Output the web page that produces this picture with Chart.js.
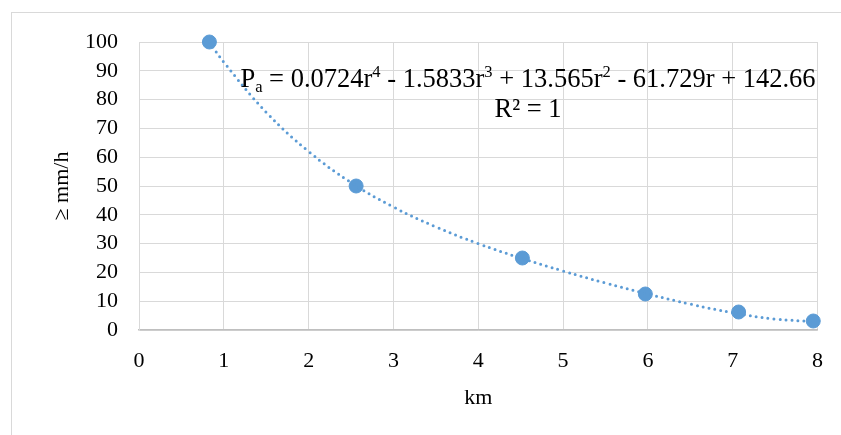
<!DOCTYPE html>
<html>
<head>
<meta charset="utf-8">
<script src="https://cdn.jsdelivr.net/npm/chart.js@4.4.1/dist/chart.umd.min.js"></script>
<style>
  body { margin: 0; background: #fff; }
  #myChart { display: block; }
</style>
</head>
<body>
<canvas id="myChart" width="841" height="435"></canvas>
<script>
// measured points (km vs intensity)
var distKm = [0.83, 2.56, 4.52, 5.97, 7.07, 7.95];
var intensity = [100, 50, 25, 12.5, 6.25, 3.125];

// dotted trendline
var trendKm = [0.83, 1, 1.5, 2, 2.5, 3, 3.5, 4, 4.5, 5, 5.5, 6, 6.5, 7, 7.5, 7.95];
var trendVal = [100, 93, 75.6, 62, 51.2, 42.7, 35.8, 30, 25, 20.5, 16.3, 12.5, 9, 6, 3.8, 3];

// equation shown on the chart
var coeffs = ['0.0724', '1.5833', '13.565', '61.729', '142.66'];
var rSquared = '1';

var xTicks = [0, 1, 2, 3, 4, 5, 6, 7, 8];
var yTicks = [0, 10, 20, 30, 40, 50, 60, 70, 80, 90, 100];

var blue = '#5b9bd5';
var serif = "'Liberation Serif', 'Times New Roman', serif";

var scatterPts = distKm.map(function(k, i) { return {x: k, y: intensity[i]}; });
var trendPts = trendKm.map(function(k, i) { return {x: k, y: trendVal[i]}; });

// outer frame + trendline equation
var extras = {
  id: 'extras',
  beforeDraw: function(chart) {
    var ctx = chart.ctx;
    ctx.save();
    ctx.strokeStyle = '#d9d9d9';
    ctx.lineWidth = 1;
    ctx.strokeRect(11.5, 12.5, 860, 440);
    ctx.restore();
  },
  afterDraw: function(chart) {
    var ctx = chart.ctx;
    var big = '26.5px ' + serif, small = '16.5px ' + serif;
    var parts = [
      ['P', big, 0], ['a', small, 5],
      [' = ' + coeffs[0] + 'r', big, 0], ['4', small, -10],
      [' - ' + coeffs[1] + 'r', big, 0], ['3', small, -10],
      [' + ' + coeffs[2] + 'r', big, 0], ['2', small, -10],
      [' - ' + coeffs[3] + 'r + ' + coeffs[4], big, 0]
    ];
    ctx.save();
    ctx.fillStyle = '#000';
    ctx.textBaseline = 'alphabetic';
    var total = 0;
    parts.forEach(function(p) { ctx.font = p[1]; total += ctx.measureText(p[0]).width; });
    var cx = 528;
    var x = cx - total / 2, base = 87;
    parts.forEach(function(p) {
      ctx.font = p[1];
      ctx.fillText(p[0], x, base + p[2]);
      x += ctx.measureText(p[0]).width;
    });
    ctx.font = big;
    ctx.textAlign = 'center';
    ctx.fillText('R\u00b2 = ' + rSquared, cx, 117);
    ctx.restore();
  }
};

var config = {
  type: 'scatter',
  data: {
    datasets: [
      {
        label: 'Trend',
        data: trendPts,
        showLine: true,
        borderColor: blue,
        borderWidth: 3,
        borderDash: [0, 6],
        borderCapStyle: 'round',
        tension: 0.4,
        pointRadius: 0,
        clip: false
      },
      {
        label: 'Intensity',
        data: scatterPts,
        backgroundColor: blue,
        borderColor: blue,
        pointRadius: 7,
        clip: false
      }
    ]
  },
  options: {
    responsive: false,
    animation: false,
    devicePixelRatio: 1,
    layout: { padding: { left: 0, right: 23, top: 42, bottom: 0 } },
    plugins: {
      legend: { display: false },
      tooltip: { enabled: false }
    },
    scales: {
      x: {
        type: 'linear',
        min: 0,
        max: 8,
        afterBuildTicks: function(s) { s.ticks = xTicks.map(function(v) { return {value: v}; }); },
        afterFit: function(s) { s.height = 105; },
        grid: { color: '#d9d9d9', lineWidth: 1, drawTicks: false },
        border: { color: '#bfbfbf', width: 1.5 },
        ticks: { color: '#000', padding: 18, autoSkip: false, maxRotation: 0, font: { family: serif, size: 22 } },
        title: { display: true, text: 'km', color: '#000', padding: { top: 0, bottom: 24 }, font: { family: serif, size: 22 } }
      },
      y: {
        type: 'linear',
        min: 0,
        max: 100,
        afterBuildTicks: function(s) { s.ticks = yTicks.map(function(v) { return {value: v}; }); },
        afterFit: function(s) { s.width = 139; },
        grid: { color: '#d9d9d9', lineWidth: 1, drawTicks: false },
        border: { color: '#d9d9d9', width: 1 },
        ticks: { color: '#000', padding: 21, autoSkip: false, font: { family: serif, size: 22 } },
        title: { display: true, text: '\u2265 mm/h', color: '#000', padding: { top: 49, bottom: 0 }, font: { family: serif, size: 22 } }
      }
    }
  },
  plugins: [extras]
};

var chartInstance = new Chart(document.getElementById('myChart'), config);
</script>
</body>
</html>
